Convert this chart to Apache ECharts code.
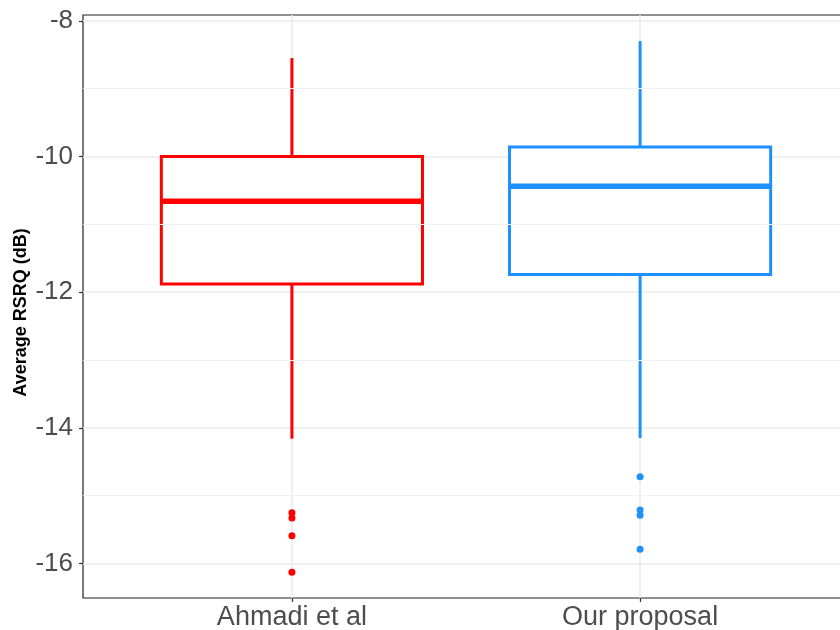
<!DOCTYPE html>
<html>
<head>
<meta charset="utf-8">
<script src="https://cdn.jsdelivr.net/npm/echarts@6/dist/echarts.min.js"></script>
<style>
  html, body { margin: 0; padding: 0; background: #fff; }
  #chart { width: 840px; height: 630px; }
</style>
</head>
<body>
<div id="chart"></div>
<script>
// Average RSRQ per method: whisker/box statistics and outlying runs
const categories = ['Ahmadi et al', 'Our proposal'];
const colors = ['#FF0000', '#1E90FF'];
// [lower whisker, Q1, median, Q3, upper whisker]
const boxStats = [
  [-14.16, -11.88, -10.66, -10.00, -8.55],
  [-14.15, -11.74, -10.44, -9.86, -8.30]
];
const outliersAhmadi = [-15.25, -15.33, -15.59, -16.13];
const outliersProposal = [-14.72, -15.21, -15.29, -15.79];
const yTicks = [-16, -14, -12, -10, -8];
const yMinor = [-15, -13, -11, -9];

const chart = echarts.init(document.getElementById('chart'));

const boxData = boxStats.map((s, i) => [i + 1].concat(s));
const outlierData = [
  outliersAhmadi.map(v => [1, v]),
  outliersProposal.map(v => [2, v])
];

const FONT = '"Liberation Sans", Arial, Helvetica, sans-serif';
const BOX_W = 0.75;

function renderBox(params, api) {
  const x = api.value(0);
  const idx = params.dataIndex;
  const color = colors[idx];
  const lo = api.coord([x, api.value(1)]);
  const q1 = api.coord([x, api.value(2)]);
  const md = api.coord([x, api.value(3)]);
  const q3 = api.coord([x, api.value(4)]);
  const hi = api.coord([x, api.value(5)]);
  const half = api.size([BOX_W, 0])[0] / 2;
  const cx = lo[0];
  const lineStyle = { stroke: color, lineWidth: 3, fill: null };
  return {
    type: 'group',
    children: [
      { type: 'line', shape: { x1: cx, y1: hi[1], x2: cx, y2: q3[1] }, style: lineStyle },
      { type: 'line', shape: { x1: cx, y1: q1[1], x2: cx, y2: lo[1] }, style: lineStyle },
      { type: 'rect', shape: { x: cx - half, y: q3[1], width: half * 2, height: q1[1] - q3[1] },
        style: { stroke: color, lineWidth: 3, fill: '#fff' } },
      { type: 'line', shape: { x1: cx - half, y1: md[1], x2: cx + half, y2: md[1] },
        style: { stroke: color, lineWidth: 5.5 } }
    ]
  };
}

const option = {
  animation: false,
  backgroundColor: '#fff',
  grid: {
    left: 83, top: 15, right: -9, bottom: 32,
    outerBoundsMode: 'none',
    containLabel: false,
    show: true, borderColor: '#222222', borderWidth: 1.2, backgroundColor: '#fff'
  },
  xAxis: {
    type: 'value',
    min: 0.4, max: 2.6,
    axisLine: { show: false },
    axisTick: { show: true, customValues: [1, 2], length: 4, lineStyle: { color: '#333333', width: 1.2 } },
    axisLabel: {
      customValues: [1, 2],
      formatter: v => categories[Math.round(v) - 1] || '',
      color: '#4D4D4D', fontSize: 27, fontFamily: FONT, margin: 6
    },
    splitLine: { show: true, lineStyle: { color: '#EBEBEB', width: 1.5 } }
  },
  yAxis: {
    type: 'value',
    min: -16.508, max: -7.915,
    name: 'Average RSRQ (dB)',
    nameLocation: 'middle',
    nameMoveOverlap: false,
    nameGap: 53,
    nameTextStyle: {
      color: '#000', fontSize: 18, fontWeight: 'bold', fontFamily: FONT,
      padding: [0, 12, 0, 0]
    },
    axisLine: { show: false },
    axisTick: { show: true, customValues: yTicks, length: 4, lineStyle: { color: '#333333', width: 1.2 } },
    axisLabel: {
      customValues: yTicks,
      color: '#4D4D4D', fontSize: 26, fontFamily: FONT, margin: 10
    },
    splitLine: { show: true, lineStyle: { color: '#EBEBEB', width: 1.5 } }
  },
  series: [
    {
      type: 'line',
      data: [],
      silent: true,
      markLine: {
        silent: true,
        symbol: 'none',
        label: { show: false },
        lineStyle: { color: '#F2F2F2', width: 1, type: 'solid' },
        data: yMinor.map(v => ({ yAxis: v }))
      }
    },
    {
      type: 'custom',
      renderItem: renderBox,
      data: boxData,
      encode: { x: 0, y: [1, 2, 3, 4, 5] },
      z: 3
    },
    {
      type: 'scatter',
      data: outlierData[0],
      symbolSize: 7,
      itemStyle: { color: colors[0], opacity: 1 },
      z: 4
    },
    {
      type: 'scatter',
      data: outlierData[1],
      symbolSize: 7,
      itemStyle: { color: colors[1], opacity: 1 },
      z: 4
    }
  ]
};

chart.setOption(option);
</script>
</body>
</html>
